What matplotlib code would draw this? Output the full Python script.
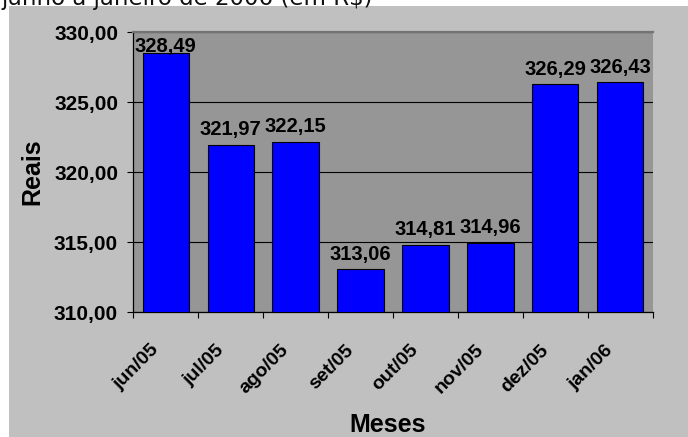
import matplotlib
matplotlib.use("Agg")
import matplotlib.pyplot as plt
import matplotlib.transforms as mtransforms
from matplotlib.patches import Rectangle

# Dados: valor mensal em reais
meses = ["jun/05", "jul/05", "ago/05", "set/05", "out/05", "nov/05", "dez/05", "jan/06"]
valores = [328.49, 321.97, 322.15, 313.06, 314.81, 314.96, 326.29, 326.43]
y_ticks = [310, 315, 320, 325, 330]
titulo = "junho a janeiro de 2006 (em R$)"

W, H = 688, 437
DPI = 100
fig = plt.figure(figsize=(W / DPI, H / DPI), dpi=DPI, facecolor="white")

# Área do gráfico (fundo cinza claro)
fig.patches.append(Rectangle((9 / W, 0), (W - 9) / W, (H - 6) / H,
                             transform=fig.transFigure, facecolor="#C0C0C0",
                             edgecolor="none", zorder=-10))

# Linha de título cortada no topo
fig.text(1 / W, (H - 4.5) / H, titulo, fontsize=16.5, family="DejaVu Sans",
         va="baseline", ha="left", color="#111111")

left, right = 133.3, 652.7
top, bottom = 32.3, 312.3
ax = fig.add_axes([left / W, (H - bottom) / H, (right - left) / W, (bottom - top) / H])
ax.set_zorder(1)
ax.set_facecolor("#969696")

fonte = "Liberation Sans"
x = list(range(len(meses)))
ax.bar(x, valores, width=0.714, color="#0000FF", edgecolor="black",
       linewidth=0.8, zorder=3)

ax.set_xlim(-0.5, len(meses) - 0.5)
ax.set_ylim(y_ticks[0], y_ticks[-1])

# Grade horizontal
ax.set_yticks(y_ticks)
ax.set_yticklabels([f"{v:.2f}".replace(".", ",") for v in y_ticks],
                   fontsize=15, fontweight="bold", family=fonte)
ax.yaxis.grid(True, color="black", linewidth=0.8, zorder=1)
ax.set_axisbelow(True)
ax.tick_params(axis="y", direction="out", length=4, width=0.8, pad=7, colors="black")

# Eixo X: marcas entre categorias, rótulos inclinados no centro
ax.set_xticks(x)
ax.set_xticklabels(meses, fontsize=14, fontweight="bold", family=fonte,
                   rotation=45, ha="right", va="top")
ax.set_xticks([i - 0.5 for i in range(len(meses) + 1)], minor=True)
ax.tick_params(axis="x", which="major", length=0, pad=21)
ax.tick_params(axis="x", which="minor", direction="out", length=4.5, width=0.8)
offset = mtransforms.ScaledTranslation(-2.5 / 72, 0, fig.dpi_scale_trans)
for lbl in ax.get_xticklabels():
    lbl.set_transform(lbl.get_transform() + offset)

for side in ("left", "bottom"):
    ax.spines[side].set_color("black")
    ax.spines[side].set_linewidth(0.9)
ax.spines["right"].set_visible(False)
ax.spines["top"].set_color("#737373")
ax.spines["top"].set_linewidth(1.6)
ax.spines["top"].set_zorder(5)

# Rótulos de valor sobre as barras; se não couber acima, fica rente à barra
px_por_unidade = (bottom - top) / (y_ticks[-1] - y_ticks[0])
altura_rotulo = 22  # px
for xi, v in zip(x, valores):
    texto = f"{v:.2f}".replace(".", ",")
    espaco = (y_ticks[-1] - v) * px_por_unidade
    desloc = 7 if espaco > altura_rotulo + 8 else 1.2
    ax.annotate(texto, (xi, v), xytext=(0, desloc), textcoords="offset points",
                ha="center", va="baseline", fontsize=14.5, fontweight="bold",
                family=fonte, zorder=6, annotation_clip=False)

# Títulos dos eixos
fig.text(39 / W, (H - 171.5) / H, "Reais", rotation=90, rotation_mode="anchor",
         ha="center", va="baseline", fontsize=18, fontweight="bold", family=fonte)
fig.text(388 / W, (H - 431.7) / H, "Meses", ha="center", va="baseline",
         fontsize=18, fontweight="bold", family=fonte)

fig.savefig("out.png", dpi=DPI, facecolor="white")
